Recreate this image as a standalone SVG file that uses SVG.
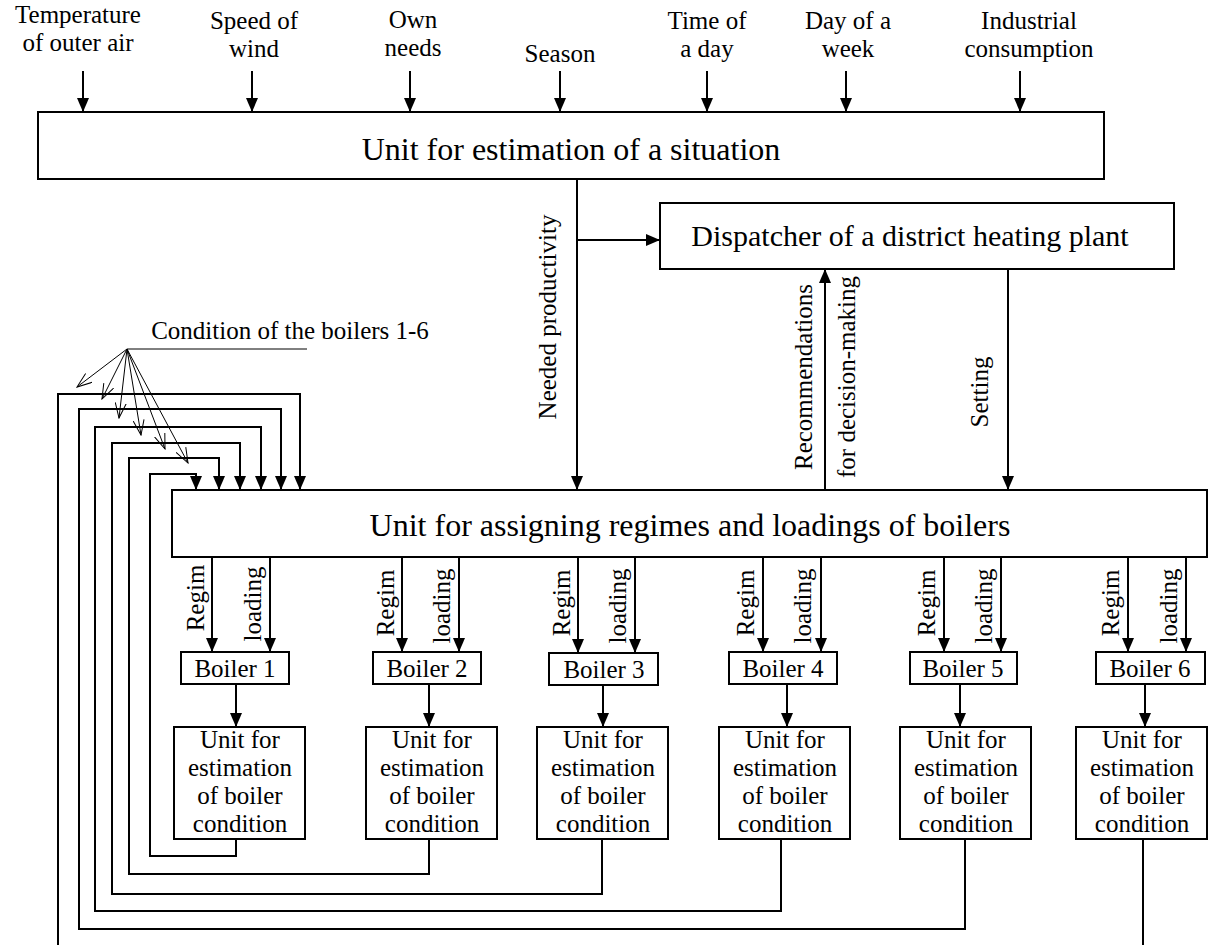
<svg xmlns="http://www.w3.org/2000/svg" width="1211" height="945" viewBox="0 0 1211 945">
<style>
.t{font-family:"Liberation Serif","Times New Roman",serif;font-size:25px;text-anchor:middle;fill:#000}
.big{font-size:32px}
.box{fill:#fff;stroke:#000;stroke-width:2}
.ln{fill:none;stroke:#000;stroke-width:2}
.thin{fill:none;stroke:#000;stroke-width:1}
</style>
<defs>
<marker id="ah" markerUnits="userSpaceOnUse" markerWidth="14" markerHeight="12" refX="14" refY="6" orient="auto">
<path d="M0,0 L14,6 L0,12 z" fill="#000"/>
</marker>
<marker id="oh" markerUnits="userSpaceOnUse" markerWidth="16" markerHeight="12" refX="15" refY="6" orient="auto">
<path d="M0,0.5 L15,6 L0,11.5" fill="none" stroke="#000" stroke-width="1"/>
</marker>
</defs>
<rect width="1211" height="945" fill="#fff"/>

<g id="inputs">
<text class="t" x="78" y="23">Temperature</text><text class="t" x="78" y="51">of outer air</text>
<text class="t" x="254" y="29">Speed of</text><text class="t" x="254" y="57">wind</text>
<text class="t" x="413" y="28">Own</text><text class="t" x="413" y="56">needs</text>
<text class="t" x="560" y="62">Season</text>
<text class="t" x="707" y="29">Time of</text><text class="t" x="707" y="57">a day</text>
<text class="t" x="848" y="29">Day of a</text><text class="t" x="848" y="57">week</text>
<text class="t" x="1029" y="29">Industrial</text><text class="t" x="1029" y="57">consumption</text>
</g>

<g id="situation">
<rect class="box" x="38" y="112" width="1066" height="67"/>
<text class="t big" x="571" y="160">Unit for estimation of a situation</text>
</g>

<g id="dispatcher">
<rect class="box" x="660" y="203" width="514" height="66"/>
<text class="t big" x="910" y="246" style="font-size:30px">Dispatcher of a district heating plant</text>
</g>

<g id="assigning">
<rect class="box" x="172" y="490" width="1035" height="67"/>
<text class="t big" x="690" y="536">Unit for assigning regimes and loadings of boilers</text>
</g>

<g id="boilers">
<g id="b1"><rect class="box" x="181" y="652" width="108" height="32"/><text class="t" x="235" y="677">Boiler 1</text></g>
<g id="b2"><rect class="box" x="373" y="652" width="108" height="32"/><text class="t" x="427" y="677">Boiler 2</text></g>
<g id="b3"><rect class="box" x="549" y="653" width="109" height="32"/><text class="t" x="604" y="678">Boiler 3</text></g>
<g id="b4"><rect class="box" x="729" y="652" width="108" height="32"/><text class="t" x="783" y="677">Boiler 4</text></g>
<g id="b5"><rect class="box" x="910" y="652" width="107" height="32"/><text class="t" x="963" y="677">Boiler 5</text></g>
<g id="b6"><rect class="box" x="1096" y="652" width="109" height="32"/><text class="t" x="1150" y="677">Boiler 6</text></g>
</g>

<g id="estimators">
<g id="u1"><rect class="box" x="174" y="727" width="131" height="112"/>
<text class="t" x="240" y="748">Unit for</text><text class="t" x="240" y="776">estimation</text><text class="t" x="240" y="804">of boiler</text><text class="t" x="240" y="832">condition</text></g>
<g id="u2"><rect class="box" x="366" y="727" width="131" height="112"/>
<text class="t" x="432" y="748">Unit for</text><text class="t" x="432" y="776">estimation</text><text class="t" x="432" y="804">of boiler</text><text class="t" x="432" y="832">condition</text></g>
<g id="u3"><rect class="box" x="537" y="727" width="131" height="112"/>
<text class="t" x="603" y="748">Unit for</text><text class="t" x="603" y="776">estimation</text><text class="t" x="603" y="804">of boiler</text><text class="t" x="603" y="832">condition</text></g>
<g id="u4"><rect class="box" x="719" y="727" width="131" height="112"/>
<text class="t" x="785" y="748">Unit for</text><text class="t" x="785" y="776">estimation</text><text class="t" x="785" y="804">of boiler</text><text class="t" x="785" y="832">condition</text></g>
<g id="u5"><rect class="box" x="900" y="727" width="131" height="112"/>
<text class="t" x="966" y="748">Unit for</text><text class="t" x="966" y="776">estimation</text><text class="t" x="966" y="804">of boiler</text><text class="t" x="966" y="832">condition</text></g>
<g id="u6"><rect class="box" x="1076" y="727" width="131" height="112"/>
<text class="t" x="1142" y="748">Unit for</text><text class="t" x="1142" y="776">estimation</text><text class="t" x="1142" y="804">of boiler</text><text class="t" x="1142" y="832">condition</text></g>
</g>

<g id="connectors">
<path class="ln" d="M83,71 V112" marker-end="url(#ah)"/>
<path class="ln" d="M252,71 V112" marker-end="url(#ah)"/>
<path class="ln" d="M410,71 V112" marker-end="url(#ah)"/>
<path class="ln" d="M560,71 V112" marker-end="url(#ah)"/>
<path class="ln" d="M707,71 V112" marker-end="url(#ah)"/>
<path class="ln" d="M846,71 V112" marker-end="url(#ah)"/>
<path class="ln" d="M1020,71 V112" marker-end="url(#ah)"/>
<path class="ln" d="M577,179 V490" marker-end="url(#ah)"/>
<path class="ln" d="M577,240 H660" marker-end="url(#ah)"/>
<path class="ln" d="M825,490 V269" marker-end="url(#ah)"/>
<path class="ln" d="M1008,269 V490" marker-end="url(#ah)"/>
<path class="ln" d="M212,557 V652" marker-end="url(#ah)"/>
<path class="ln" d="M270,557 V652" marker-end="url(#ah)"/>
<path class="ln" d="M402,557 V652" marker-end="url(#ah)"/>
<path class="ln" d="M459,557 V652" marker-end="url(#ah)"/>
<path class="ln" d="M578,557 V653" marker-end="url(#ah)"/>
<path class="ln" d="M635,557 V653" marker-end="url(#ah)"/>
<path class="ln" d="M763,557 V652" marker-end="url(#ah)"/>
<path class="ln" d="M821,557 V652" marker-end="url(#ah)"/>
<path class="ln" d="M944,557 V652" marker-end="url(#ah)"/>
<path class="ln" d="M1001,557 V652" marker-end="url(#ah)"/>
<path class="ln" d="M1128,557 V652" marker-end="url(#ah)"/>
<path class="ln" d="M1186,557 V652" marker-end="url(#ah)"/>
<path class="ln" d="M236,684 V727" marker-end="url(#ah)"/>
<path class="ln" d="M429,684 V727" marker-end="url(#ah)"/>
<path class="ln" d="M603,685 V727" marker-end="url(#ah)"/>
<path class="ln" d="M787,684 V727" marker-end="url(#ah)"/>
<path class="ln" d="M960,684 V727" marker-end="url(#ah)"/>
<path class="ln" d="M1145,684 V727" marker-end="url(#ah)"/>
<path class="ln" d="M236,839 V856 H150 V474 H196 V490" marker-end="url(#ah)"/>
<path class="ln" d="M429,839 V874 H129 V458 H219 V490" marker-end="url(#ah)"/>
<path class="ln" d="M602,839 V894 H112 V443 H240 V490" marker-end="url(#ah)"/>
<path class="ln" d="M781,839 V911 H95 V427 H261 V490" marker-end="url(#ah)"/>
<path class="ln" d="M965,839 V929 H79 V409 H281 V490" marker-end="url(#ah)"/>
<path class="ln" d="M58,945 V394 H300 V490" marker-end="url(#ah)"/>
<path class="ln" d="M1143,839 V945"/>
<path class="thin" d="M127,349 H307"/>
<path class="thin" d="M127,349 L77,387" marker-end="url(#oh)"/>
<path class="thin" d="M127,349 L102,399" marker-end="url(#oh)"/>
<path class="thin" d="M127,349 L119,418" marker-end="url(#oh)"/>
<path class="thin" d="M127,349 L141,435" marker-end="url(#oh)"/>
<path class="thin" d="M127,349 L165,449" marker-end="url(#oh)"/>
<path class="thin" d="M127,349 L188,463" marker-end="url(#oh)"/>
</g>

<g id="labels">
<text class="t" x="290" y="339">Condition of the boilers 1-6</text>
<text class="t" transform="translate(556,317) rotate(-90)">Needed productivity</text>
<text class="t" transform="translate(812,377) rotate(-90)">Recommendations</text>
<text class="t" transform="translate(855,377) rotate(-90)">for decision-making</text>
<text class="t" transform="translate(988,392) rotate(-90)">Setting</text>
<text class="t" transform="translate(204,598) rotate(-90)">Regim</text>
<text class="t" transform="translate(261,604) rotate(-90)">loading</text>
<text class="t" transform="translate(394,603) rotate(-90)">Regim</text>
<text class="t" transform="translate(450,606) rotate(-90)">loading</text>
<text class="t" transform="translate(570,603) rotate(-90)">Regim</text>
<text class="t" transform="translate(626,606) rotate(-90)">loading</text>
<text class="t" transform="translate(754,603) rotate(-90)">Regim</text>
<text class="t" transform="translate(811,606) rotate(-90)">loading</text>
<text class="t" transform="translate(935,603) rotate(-90)">Regim</text>
<text class="t" transform="translate(992,606) rotate(-90)">loading</text>
<text class="t" transform="translate(1119,603) rotate(-90)">Regim</text>
<text class="t" transform="translate(1177,606) rotate(-90)">loading</text>
</g>
</svg>
